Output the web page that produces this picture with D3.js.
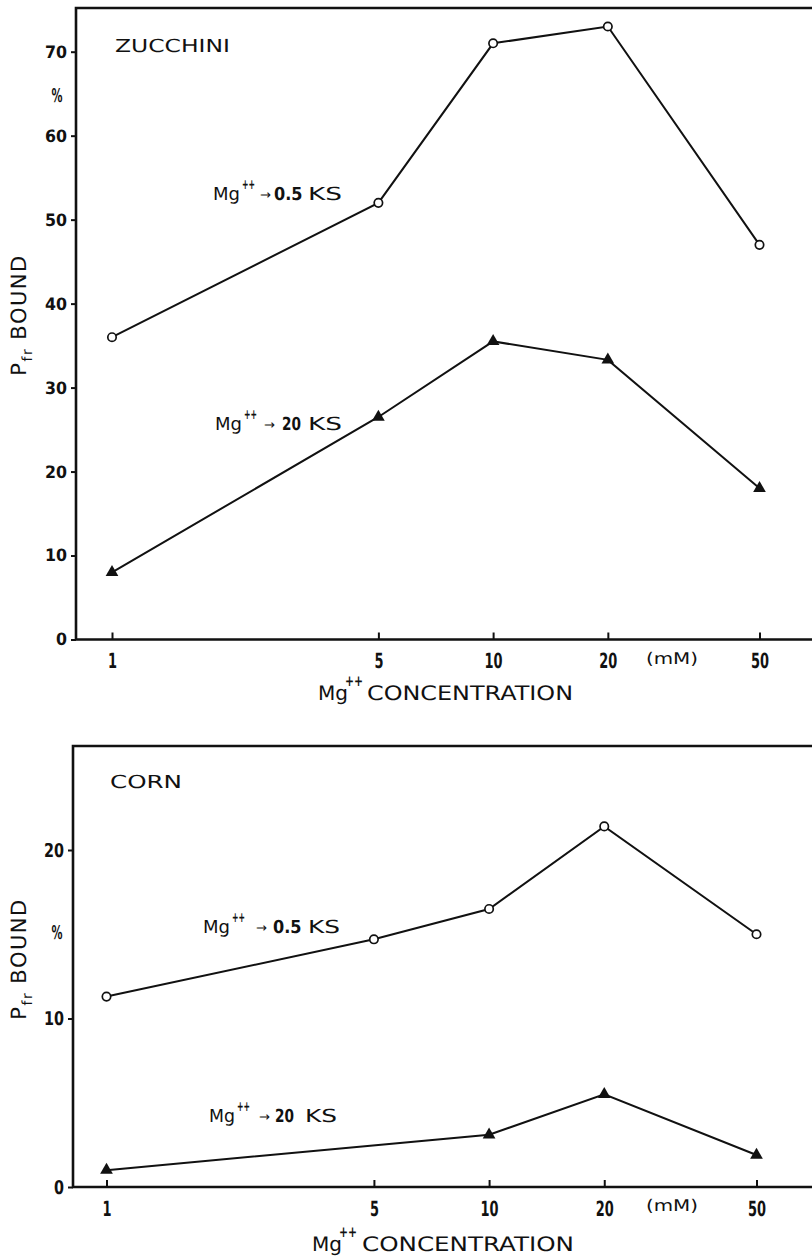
<!DOCTYPE html>
<html>
<head>
<meta charset="utf-8">
<script src="https://cdn.jsdelivr.net/npm/d3@7"></script>
<style>
  html, body { margin: 0; padding: 0; background: #fff; }
  svg { display: block; }
  .num { font-family: "Liberation Sans Narrow", "DejaVu Sans Condensed", "Roboto Condensed", sans-serif; font-weight: bold; fill: #111; }
  .lbl { font-family: "DejaVu Sans", "Liberation Sans", sans-serif; fill: #111; }
  text { text-rendering: geometricPrecision; }
</style>
</head>
<body>
<svg id="chart" width="812" height="1259"></svg>
<script>
// Mg++ concentration (mM), log axis
const concentrations = [1, 5, 10, 20, 50];
const xTickValues = [1, 5, 10, 20, 50];

// zucchini, % Pfr bound
const zucchiniYTicks = [0, 10, 20, 30, 40, 50, 60, 70];
const zucchiniLow = [36, 52, 71, 73, 47];        // Mg++ -> 0.5 KS
const zucchiniHigh = [8, 26.5, 35.5, 33.3, 18];  // Mg++ -> 20 KS

// corn, % Pfr bound
const cornYTicks = [0, 10, 20];
const cornLow = [11.3, 14.7, 16.5, 21.4, 15];
const cornHighConc = [1, 10, 20, 50];
const cornHigh = [1, 3.1, 5.5, 1.9];

const speedLow = "0.5";
const speedHigh = "20";

const svg = d3.select("#chart");
const ink = "#111";

// squeeze bold digits into the tall narrow look of the original lettering
function condense(sel, perChar) {
    sel.each(function () {
        const n = this.textContent.length;
        d3.select(this)
            .attr("textLength", n * perChar)
            .attr("lengthAdjust", "spacingAndGlyphs");
    });
}

function speedLabel(g, x0, base, speed, o) {
    const t = g.append("g");
    t.append("text").attr("class", "lbl").attr("x", x0).attr("y", base)
        .attr("font-size", 18).attr("textLength", o.sup - 3).attr("lengthAdjust", "spacingAndGlyphs").text("Mg");
    t.append("text").attr("class", "num").attr("x", x0 + o.sup - 1).attr("y", base - 11)
        .attr("font-size", 14).attr("textLength", 13).attr("lengthAdjust", "spacingAndGlyphs").text("++");
    t.append("text").attr("class", "lbl").attr("x", x0 + o.arrow).attr("y", base - 1)
        .attr("font-size", 13).attr("textLength", 11).attr("lengthAdjust", "spacingAndGlyphs").text("\u2192");
    t.append("text").attr("class", "num").attr("x", x0 + o.num).attr("y", base)
        .attr("font-size", 18).attr("textLength", speed.length * 9.5).attr("lengthAdjust", "spacingAndGlyphs").text(speed);
    t.append("text").attr("class", "lbl").attr("x", x0 + o.ks).attr("y", base)
        .attr("font-size", 18).attr("textLength", o.ksLen).attr("lengthAdjust", "spacingAndGlyphs").text("KS");
}

function drawPanel(p) {
    const g = svg.append("g");

    const x = d3.scaleLog().domain([1, 50]).range(p.xRange);
    const y = d3.scaleLinear().domain(p.yDomain).range(p.yRange);

    // frame: top border, left axis, baseline
    g.append("path")
        .attr("d", `M812,${p.top}H${p.left}V${p.base}H812`)
        .attr("fill", "none")
        .attr("stroke", ink)
        .attr("stroke-width", 2.6);

    const yAxis = d3.axisLeft(y).tickValues(p.yTicks).tickSize(5).tickPadding(4).tickFormat(d3.format("d"));
    g.append("g")
        .attr("class", "y axis")
        .attr("transform", `translate(${p.left},0)`)
        .call(yAxis)
        .call((a) => a.select(".domain").remove())
        .call((a) => a.selectAll("line").attr("stroke", ink).attr("stroke-width", 2))
        .call((a) => a.selectAll("text").attr("class", "num").attr("font-size", p.yFont).call(condense, p.yChar));

    const xAxis = d3.axisBottom(x).tickValues(xTickValues).tickSize(-7).tickPadding(14).tickFormat(d3.format("d"));
    g.append("g")
        .attr("class", "x axis")
        .attr("transform", `translate(0,${p.base})`)
        .call(xAxis)
        .call((a) => a.select(".domain").remove())
        .call((a) => a.selectAll("line").attr("stroke", ink).attr("stroke-width", 2))
        .call((a) => a.selectAll("text").attr("class", "num").attr("font-size", 21).call(condense, 9));

    const line = d3.line().x((d) => x(d[0])).y((d) => y(d[1]));

    p.series.forEach((s) => {
        const pts = d3.zip(s.conc, s.values);
        g.append("path")
            .datum(pts)
            .attr("fill", "none")
            .attr("stroke", ink)
            .attr("stroke-width", 2)
            .attr("d", line);

        if (s.marker === "circle") {
            g.append("g").selectAll("circle")
                .data(pts)
                .enter()
                .append("circle")
                .attr("cx", (d) => x(d[0]))
                .attr("cy", (d) => y(d[1]))
                .attr("r", 4.2)
                .attr("fill", "#fff")
                .attr("stroke", ink)
                .attr("stroke-width", 1.7);
        } else {
            g.append("g").selectAll("path")
                .data(pts)
                .enter()
                .append("path")
                .attr("transform", (d) => `translate(${x(d[0])},${y(d[1])})`)
                .attr("d", d3.symbol(d3.symbolTriangle, 70))
                .attr("fill", ink);
        }
    });

    // panel name
    g.append("text").attr("class", "lbl")
        .attr("x", p.name.x).attr("y", p.name.y)
        .attr("font-size", 18)
        .attr("textLength", p.name.len).attr("lengthAdjust", "spacingAndGlyphs")
        .text(p.name.text);

    speedLabel(g, p.lowLabel.x, p.lowLabel.y, speedLow, p.lowLabel);
    speedLabel(g, p.highLabel.x, p.highLabel.y, speedHigh, p.highLabel);

    // % sign
    g.append("text").attr("class", "num")
        .attr("x", 57).attr("y", p.pctY)
        .attr("text-anchor", "middle").attr("dy", "0.35em")
        .attr("font-size", 19).attr("textLength", 11).attr("lengthAdjust", "spacingAndGlyphs")
        .text("%");

    // y title
    const yt = g.append("text").attr("class", "lbl")
        .attr("transform", `translate(26,${p.yTitleY}) rotate(-90)`)
        .attr("text-anchor", "middle")
        .attr("font-size", 21)
        .attr("letter-spacing", 1.5);
    yt.append("tspan").text("P");
    yt.append("tspan").attr("dy", 6).attr("font-size", 14).text("fr");
    yt.append("tspan").attr("dy", -6).text(" BOUND");

    // x title
    g.append("text").attr("class", "lbl")
        .attr("x", p.xTitle.x).attr("y", p.xTitle.y)
        .attr("font-size", 20).attr("textLength", 30).attr("lengthAdjust", "spacingAndGlyphs")
        .text("Mg");
    g.append("text").attr("class", "num")
        .attr("x", p.xTitle.x + 27).attr("y", p.xTitle.y - 14)
        .attr("font-size", 15).attr("textLength", 18).attr("lengthAdjust", "spacingAndGlyphs")
        .text("++");
    g.append("text").attr("class", "lbl")
        .attr("x", p.xTitle.cx).attr("y", p.xTitle.y)
        .attr("font-size", 20).attr("textLength", p.xTitle.len).attr("lengthAdjust", "spacingAndGlyphs")
        .text("CONCENTRATION");

    g.append("text").attr("class", "lbl")
        .attr("x", 672).attr("y", p.base + 24)
        .attr("text-anchor", "middle")
        .attr("font-size", 16).attr("textLength", 52).attr("lengthAdjust", "spacingAndGlyphs")
        .text("(mM)");
}

drawPanel({
    left: 76, top: 8, base: 639.5,
    xRange: [112, 759.5],
    yDomain: [0, 70], yRange: [639.5, 51.7], yTicks: zucchiniYTicks, yFont: 17, yChar: 11,
    series: [
        { conc: concentrations, values: zucchiniLow, marker: "circle" },
        { conc: concentrations, values: zucchiniHigh, marker: "triangle" },
    ],
    name: { text: "ZUCCHINI", x: 115, y: 52, len: 115 },
    lowLabel: { x: 213, y: 200, sup: 30, arrow: 47, num: 61, ks: 95, ksLen: 34 },
    highLabel: { x: 215, y: 430, sup: 30, arrow: 49, num: 67, ks: 93, ksLen: 34 },
    pctY: 95,
    yTitleY: 315,
    xTitle: { x: 318, cx: 367, y: 700, len: 206 },
});

drawPanel({
    left: 73, top: 746, base: 1187,
    xRange: [106.5, 756.5],
    yDomain: [0, 20], yRange: [1187, 850], yTicks: cornYTicks, yFont: 19, yChar: 10,
    series: [
        { conc: concentrations, values: cornLow, marker: "circle" },
        { conc: cornHighConc, values: cornHigh, marker: "triangle" },
    ],
    name: { text: "CORN", x: 110, y: 788, len: 72 },
    lowLabel: { x: 203, y: 933, sup: 30, arrow: 53, num: 70, ks: 105, ksLen: 32 },
    highLabel: { x: 209, y: 1122, sup: 29, arrow: 50, num: 66, ks: 96, ksLen: 32 },
    pctY: 932,
    yTitleY: 959,
    xTitle: { x: 312, cx: 362, y: 1251, len: 212 },
});
</script>
</body>
</html>
